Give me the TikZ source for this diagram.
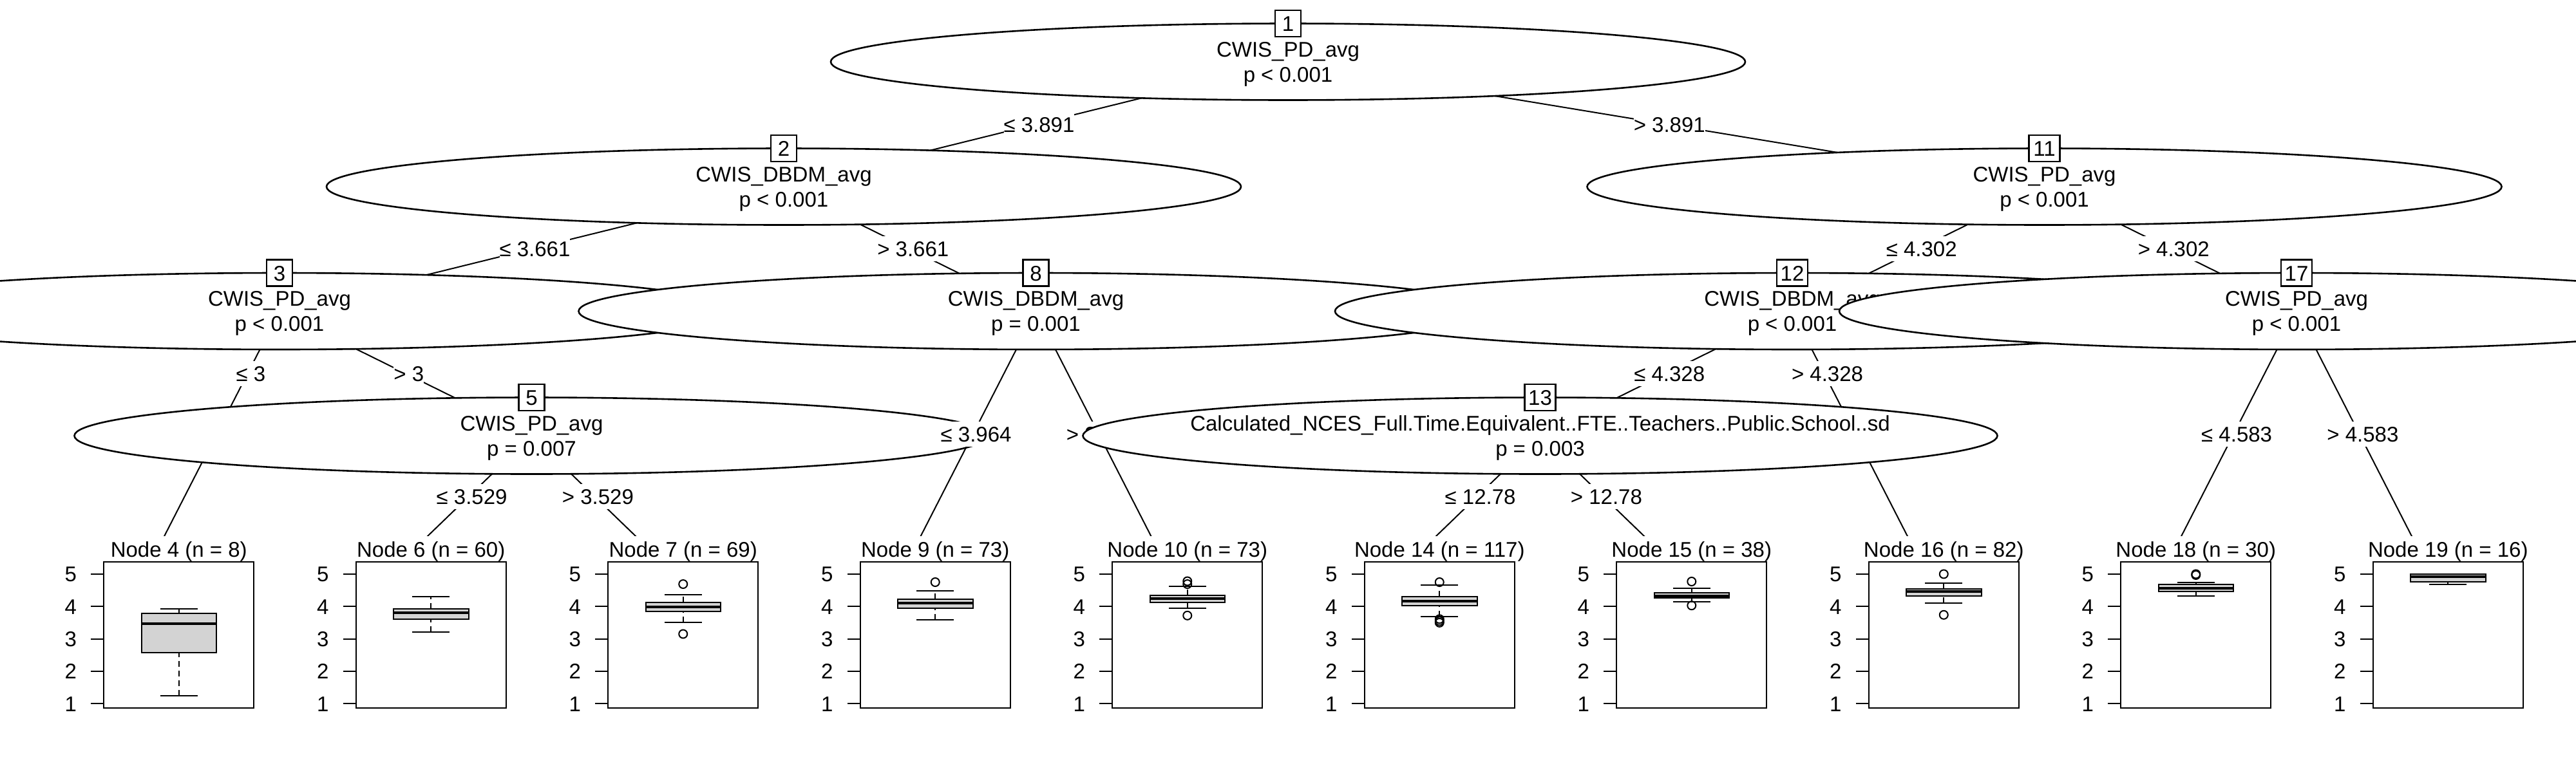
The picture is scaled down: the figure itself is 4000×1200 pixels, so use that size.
\documentclass[tikz,border=0pt]{standalone}
\usepackage{fontspec}
\setmainfont{Liberation Sans}
\usetikzlibrary{shapes.geometric,calc}
\definecolor{boxgray}{HTML}{D3D3D3}
\pgfmathdeclarefunction{vy}{1}{\pgfmathparse{1100-(#1-0.864)*50.31}}

\tikzset{
  every node/.style={font=\fontsize{33}{40}\selectfont},
  edgeline/.style={line width=2pt},
  innernode/.style={ellipse, draw, line width=2.6pt, fill=white, minimum width=1420pt, minimum height=119pt, inner sep=0pt, outer sep=0pt},
  idbox/.style={rectangle, draw, line width=2.4pt, fill=white, minimum height=41pt, minimum width=40pt, inner sep=0pt, text height=24pt, text depth=0pt},
  idboxw/.style={idbox, minimum width=48pt},
  nodetext/.style={anchor=base, inner sep=0pt},
  elabel/.style={fill=white, inner sep=0pt, minimum height=39pt, text height=24pt, text depth=0pt, xshift=5pt},
  panelline/.style={line width=2pt},
  whisker/.style={line width=2pt, dash pattern=on 9pt off 6pt},
  medianline/.style={line width=4pt},
}

\newcommand\inode[4]{%
  \node[innernode] (e#1) at (n#1) {};
  \node[nodetext] (v#1) at ($(n#1)+(0,-8)$) {#2};
  \node[nodetext] (p#1) at ($(n#1)+(0,31)$) {#3};
  \node[#4] (id#1) at ($(n#1)+(0,-59.5)$) {#1};
}

\newcommand\outl[1]{\draw[panelline] (\tpC,{vy(#1)}) circle (6.5pt);}

% #1 id, #2 column centre, #3 n, #4 upper whisker, #5 Q3, #6 median, #7 Q1, #8 lower whisker, #9 outliers
\newcommand\tpanel[9]{%
  \pgfmathsetmacro\tpL{#2-77}%
  \pgfmathsetmacro\tpR{#2+156}%
  \pgfmathsetmacro\tpC{#2+39.5}%
  \fill[white] ({#2-195.75},833) rectangle ({#2+195.75},1100);
  \node[nodetext] (title#1) at (\tpC,865) {Node #1 (n = #3)};
  \foreach \v in {1,...,5}{
    \draw[panelline] (\tpL,{vy(\v)}) -- ++(-20,0);
    \node[anchor=base east, inner sep=0pt] (ax#1x\v) at ({\tpL-42},{vy(\v)+12}) {\v};
  }
  \draw[panelline] ({\tpC-29},{vy(#8)}) -- ({\tpC+29},{vy(#8)});
  \draw[whisker] (\tpC,{vy(#8)}) -- (\tpC,{vy(#7)});
  \draw[panelline, fill=boxgray] ({\tpC-58.25},{vy(#7)}) rectangle ({\tpC+58.25},{vy(#5)});
  \draw[medianline] ({\tpC-58.25},{vy(#6)}) -- ({\tpC+58.25},{vy(#6)});
  \draw[whisker] (\tpC,{vy(#5)}) -- (\tpC,{vy(#4)});
  \draw[panelline] ({\tpC-29},{vy(#4)}) -- ({\tpC+29},{vy(#4)});
  #9
  \draw[panelline] (\tpL,873) rectangle (\tpR,1100);
}

\begin{document}
\begin{tikzpicture}[x=1pt, y=-1pt]
\useasboundingbox (0,0) rectangle (4000,1200);
\clip (0,0) rectangle (4000,1200);
\fill[white] (0,0) rectangle (4000,1200);

% inner node centres
\coordinate (n1) at (2000,96);
\coordinate (n2) at (1217,290);
\coordinate (n11) at (3174.5,290);
\coordinate (n3) at (434,483.5);
\coordinate (n8) at (1608.5,483.5);
\coordinate (n12) at (2783,483.5);
\coordinate (n17) at (3566,483.5);
\coordinate (n5) at (825.5,677);
\coordinate (n13) at (2391.5,677);
% terminal targets
\coordinate (t4) at (238.25,866);
\coordinate (t6) at (629.75,866);
\coordinate (t7) at (1021.25,866);
\coordinate (t9) at (1412.75,866);
\coordinate (t10) at (1804.25,866);
\coordinate (t14) at (2195.75,866);
\coordinate (t15) at (2587.25,866);
\coordinate (t16) at (2978.75,866);
\coordinate (t18) at (3370.25,866);
\coordinate (t19) at (3761.75,866);

% node 1
\draw[edgeline] (n1) -- (n2);
\draw[edgeline] (n1) -- (n11);
\inode{1}{CWIS\_PD\_avg}{p < 0.001}{idbox}
\node[elabel] (l2) at ($(n1)!0.5!(n2)$) {≤ 3.891};
% node 2
\draw[edgeline] (n2) -- (n3);
\draw[edgeline] (n2) -- (n8);
\inode{2}{CWIS\_DBDM\_avg}{p < 0.001}{idbox}
\node[elabel] (l3) at ($(n2)!0.5!(n3)$) {≤ 3.661};
% node 3
\draw[edgeline] (n3) -- (t4);
\draw[edgeline] (n3) -- (n5);
\inode{3}{CWIS\_PD\_avg}{p < 0.001}{idbox}
\node[elabel] (l4) at ($(n3)!0.2529!(t4)$) {≤ 3};
\tpanel{4}{238.25}{8}{3.92}{3.78}{3.47}{2.57}{1.24}{}
\node[elabel] (l5) at ($(n3)!0.5!(n5)$) {> 3};
% node 5
\draw[edgeline] (n5) -- (t6);
\draw[edgeline] (n5) -- (t7);
\inode{5}{CWIS\_PD\_avg}{p = 0.007}{idbox}
\node[elabel] (l6) at ($(n5)!0.5!(t6)$) {≤ 3.529};
\tpanel{6}{629.75}{60}{4.30}{3.93}{3.80}{3.61}{3.21}{}
\node[elabel] (l7) at ($(n5)!0.5!(t7)$) {> 3.529};
\tpanel{7}{1021.25}{69}{4.37}{4.12}{3.98}{3.84}{3.50}{\outl{4.69}\outl{3.15}}
% node 8
\node[elabel] (l8) at ($(n2)!0.5!(n8)$) {> 3.661};
\draw[edgeline] (n8) -- (t9);
\draw[edgeline] (n8) -- (t10);
\inode{8}{CWIS\_DBDM\_avg}{p = 0.001}{idbox}
\node[elabel] (l9) at ($(n8)!0.5!(t9)$) {≤ 3.964};
\tpanel{9}{1412.75}{73}{4.49}{4.23}{4.10}{3.95}{3.58}{\outl{4.75}}
\node[elabel] (l10) at ($(n8)!0.5!(t10)$) {> 3.964};
\tpanel{10}{1804.25}{73}{4.62}{4.34}{4.25}{4.12}{3.94}{\outl{4.78}\outl{4.69}\outl{3.72}}
% node 11
\node[elabel] (l11) at ($(n1)!0.5!(n11)$) {> 3.891};
\draw[edgeline] (n11) -- (n12);
\draw[edgeline] (n11) -- (n17);
\inode{11}{CWIS\_PD\_avg}{p < 0.001}{idboxw}
\node[elabel] (l12) at ($(n11)!0.5!(n12)$) {≤ 4.302};
% node 12
\draw[edgeline] (n12) -- (n13);
\draw[edgeline] (n12) -- (t16);
\inode{12}{CWIS\_DBDM\_avg}{p < 0.001}{idboxw}
\node[elabel] (l13) at ($(n12)!0.5!(n13)$) {≤ 4.328};
% node 13
\draw[edgeline] (n13) -- (t14);
\draw[edgeline] (n13) -- (t15);
\inode{13}{Calculated\_NCES\_Full.Time.Equivalent..FTE..Teachers..Public.School..sd}{p = 0.003}{idboxw}
\node[elabel] (l14) at ($(n13)!0.5!(t14)$) {≤ 12.78};
\tpanel{14}{2195.75}{117}{4.66}{4.31}{4.16}{4.02}{3.69}{\outl{4.75}\outl{3.61}\outl{3.55}\outl{3.50}}
\node[elabel] (l15) at ($(n13)!0.5!(t15)$) {> 12.78};
\tpanel{15}{2587.25}{38}{4.56}{4.43}{4.33}{4.26}{4.14}{\outl{4.77}\outl{4.03}}
\node[elabel] (l16) at ($(n12)!0.2529!(t16)$) {> 4.328};
\tpanel{16}{2978.75}{82}{4.73}{4.55}{4.46}{4.33}{4.11}{\outl{5.0}\outl{3.74}}
% node 17
\node[elabel] (l17) at ($(n11)!0.5!(n17)$) {> 4.302};
\draw[edgeline] (n17) -- (t18);
\draw[edgeline] (n17) -- (t19);
\inode{17}{CWIS\_PD\_avg}{p < 0.001}{idboxw}
\node[elabel] (l18) at ($(n17)!0.5!(t18)$) {≤ 4.583};
\tpanel{18}{3370.25}{30}{4.74}{4.68}{4.56}{4.47}{4.32}{\outl{5.0}\outl{4.97}}
\node[elabel] (l19) at ($(n17)!0.5!(t19)$) {> 4.583};
\tpanel{19}{3761.75}{16}{5.0}{5.0}{4.92}{4.77}{4.68}{}
\end{tikzpicture}
\end{document}
